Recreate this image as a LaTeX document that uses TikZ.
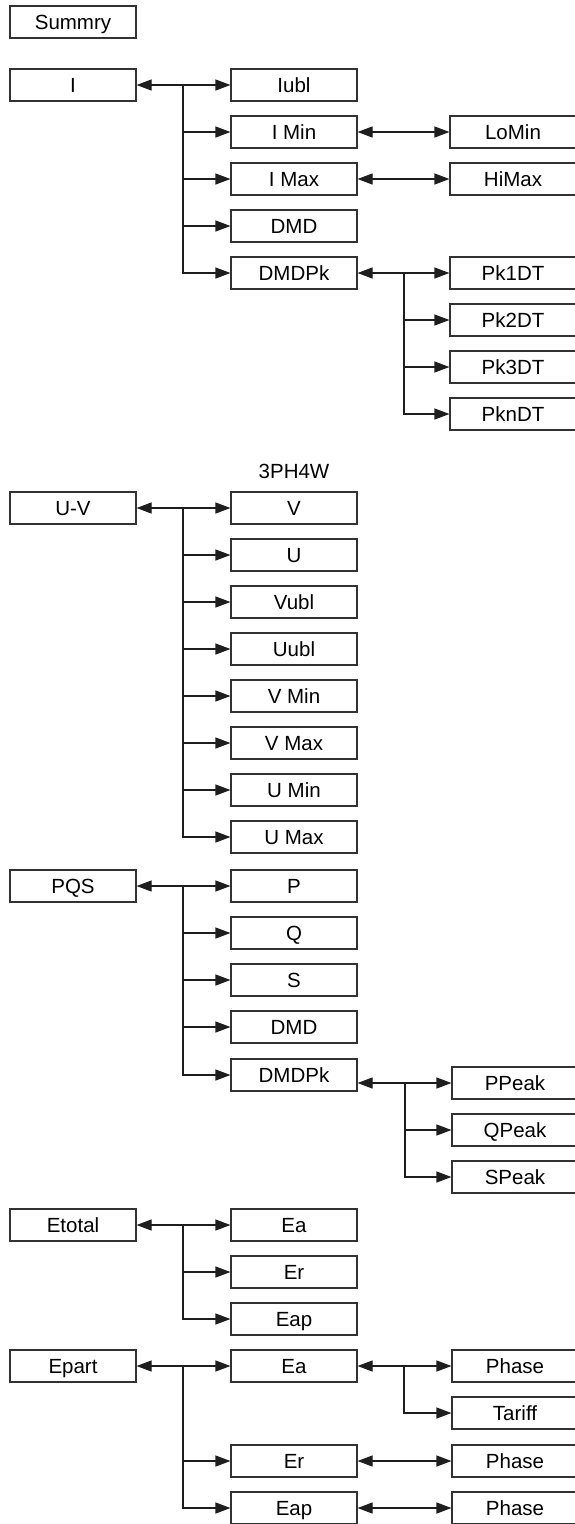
\documentclass[tikz,border=0pt]{standalone}
\usepackage{fontspec}
\setmainfont{Liberation Sans}
\usetikzlibrary{arrows.meta}
\definecolor{linecol}{RGB}{30,30,30}
\definecolor{boxcol}{RGB}{50,50,50}
\tikzset{
  box/.style={draw=boxcol, line width=1.1pt, minimum width=126pt, minimum height=32pt, inner sep=0pt, text height=14.7pt, text depth=0pt, font=\fontsize{20.5}{24}\selectfont},
  conn/.style={draw=linecol, line width=1.1pt},
  arr/.style={conn, -{Triangle[length=15pt,width=11pt]}},
  darr/.style={conn, {Triangle[length=15pt,width=11pt]}-{Triangle[length=15pt,width=11pt]}},
  lbl/.style={font=\fontsize{20.5}{24}\selectfont, inner sep=0pt, text height=14.7pt, text depth=0pt}
}
\begin{document}
\begin{tikzpicture}[x=1pt,y=-1pt]
\useasboundingbox (0,0) rectangle (575,1524);

% ---------- Summry
\node[box] (sum) at (73,22) {Summry};

% ---------- I
\node[box] (I) at (73,85) {I};
\node[box] (iubl) at (294,85) {Iubl};
\node[box] (imin) at (294,132) {I Min};
\node[box] (imax) at (294,179) {I Max};
\node[box] (idmd) at (294,226) {DMD};
\node[box] (idmdpk) at (294,273) {DMDPk};
\node[box] (lomin) at (513,132) {LoMin};
\node[box] (himax) at (513,179) {HiMax};
\node[box] (pk1) at (513,273) {Pk1DT};
\node[box] (pk2) at (513,320) {Pk2DT};
\node[box] (pk3) at (513,367) {Pk3DT};
\node[box] (pkn) at (513,414) {PknDT};
\coordinate (jI) at (183,85);
\coordinate (jPk) at (404,273);
\draw[darr] (I.east) -- (iubl.west);
\draw[arr] (jI) |- (imin.west);
\draw[arr] (jI) |- (imax.west);
\draw[arr] (jI) |- (idmd.west);
\draw[arr] (jI) |- (idmdpk.west);
\draw[darr] (imin.east) -- (lomin.west);
\draw[darr] (imax.east) -- (himax.west);
\draw[darr] (idmdpk.east) -- (pk1.west);
\draw[arr] (jPk) |- (pk2.west);
\draw[arr] (jPk) |- (pk3.west);
\draw[arr] (jPk) |- (pkn.west);

% ---------- U-V
\node[lbl] (ph) at (294,471) {3PH4W};
\node[box] (uv) at (73,508) {U-V};
\node[box] (v) at (294,508) {V};
\node[box] (u) at (294,555) {U};
\node[box] (vubl) at (294,602) {Vubl};
\node[box] (uubl) at (294,649) {Uubl};
\node[box] (vmin) at (294,696) {V Min};
\node[box] (vmax) at (294,743) {V Max};
\node[box] (umin) at (294,790) {U Min};
\node[box] (umax) at (294,837) {U Max};
\coordinate (jUV) at (183,508);
\draw[darr] (uv.east) -- (v.west);
\foreach \n in {u,vubl,uubl,vmin,vmax,umin,umax}
  \draw[arr] (jUV) |- (\n.west);

% ---------- PQS
\node[box] (pqs) at (73,886) {PQS};
\node[box] (p) at (294,886) {P};
\node[box] (q) at (294,933) {Q};
\node[box] (s) at (294,980) {S};
\node[box] (pdmd) at (294,1027) {DMD};
\node[box] (pdmdpk) at (294,1075) {DMDPk};
\node[box] (ppeak) at (515,1083) {PPeak};
\node[box] (qpeak) at (515,1130) {QPeak};
\node[box] (speak) at (515,1177) {SPeak};
\coordinate (jP) at (183,886);
\coordinate (jPP) at (405,1083);
\draw[darr] (pqs.east) -- (p.west);
\foreach \n in {q,s,pdmd,pdmdpk}
  \draw[arr] (jP) |- (\n.west);
\draw[darr] (pdmdpk.east |- ppeak.west) -- (ppeak.west);
\draw[arr] (jPP) |- (qpeak.west);
\draw[arr] (jPP) |- (speak.west);

% ---------- Etotal
\node[box] (et) at (73,1225) {Etotal};
\node[box] (ea) at (294,1225) {Ea};
\node[box] (er) at (294,1272) {Er};
\node[box] (eap) at (294,1319) {Eap};
\coordinate (jE) at (183,1225);
\draw[darr] (et.east) -- (ea.west);
\draw[arr] (jE) |- (er.west);
\draw[arr] (jE) |- (eap.west);

% ---------- Epart
\node[box] (ep) at (73,1366) {Epart};
\node[box] (pea) at (294,1366) {Ea};
\node[box] (per) at (294,1461) {Er};
\node[box] (peap) at (294,1508) {Eap};
\node[box] (ph1) at (515,1366) {Phase};
\node[box] (tar) at (515,1413) {Tariff};
\node[box] (ph2) at (515,1461) {Phase};
\node[box] (ph3) at (515,1508) {Phase};
\coordinate (jEp) at (183,1366);
\coordinate (jEa) at (404,1366);
\draw[darr] (ep.east) -- (pea.west);
\draw[arr] (jEp) |- (per.west);
\draw[arr] (jEp) |- (peap.west);
\draw[darr] (pea.east) -- (ph1.west);
\draw[arr] (jEa) |- (tar.west);
\draw[darr] (per.east) -- (ph2.west);
\draw[darr] (peap.east) -- (ph3.west);
\end{tikzpicture}
\end{document}
